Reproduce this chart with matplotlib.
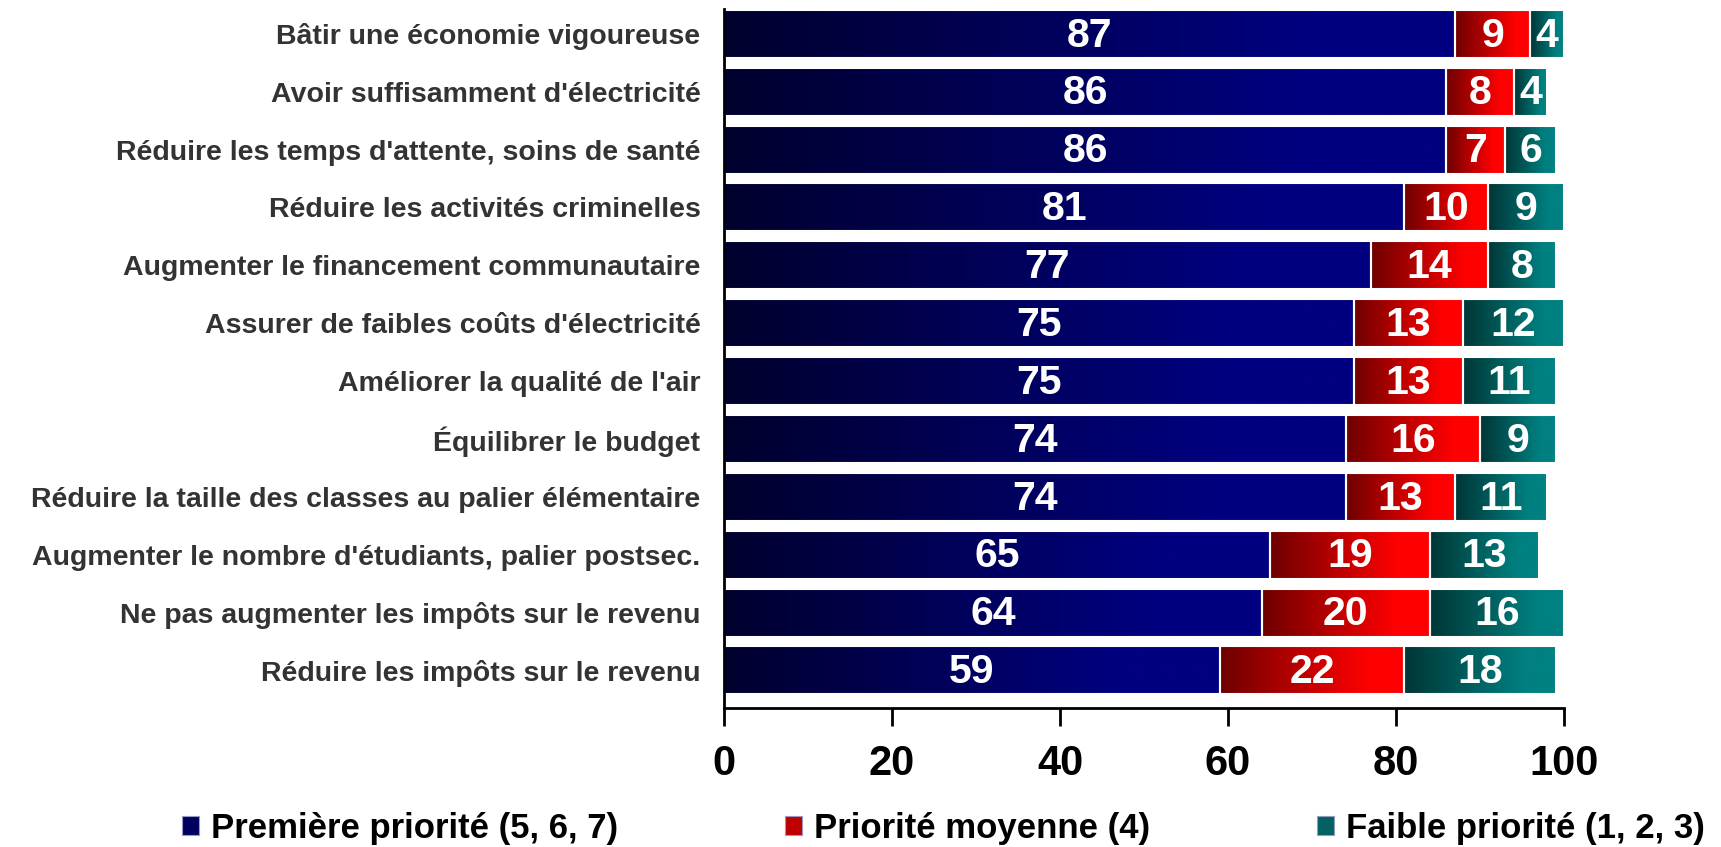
import numpy as np
import matplotlib
matplotlib.use("Agg")
import matplotlib.pyplot as plt
from matplotlib.colors import LinearSegmentedColormap
from matplotlib.patches import Patch

plt.rcParams['font.family'] = ['Liberation Sans', 'DejaVu Sans']
plt.rcParams['font.weight'] = 'bold'

categories = [
    "Bâtir une économie vigoureuse",
    "Avoir suffisamment d'électricité",
    "Réduire les temps d'attente, soins de santé",
    "Réduire les activités criminelles",
    "Augmenter le financement communautaire",
    "Assurer de faibles coûts d'électricité",
    "Améliorer la qualité de l'air",
    "Équilibrer le budget",
    "Réduire la taille des classes au palier élémentaire",
    "Augmenter le nombre d'étudiants, palier postsec.",
    "Ne pas augmenter les impôts sur le revenu",
    "Réduire les impôts sur le revenu",
]
premiere = [87, 86, 86, 81, 77, 75, 75, 74, 74, 65, 64, 59]
moyenne = [9, 8, 7, 10, 14, 13, 13, 16, 13, 19, 20, 22]
faible = [4, 4, 6, 9, 8, 12, 11, 9, 11, 13, 16, 18]
series_names = ["Première priorité (5, 6, 7)", "Priorité moyenne (4)", "Faible priorité (1, 2, 3)"]

# dark -> bright colour of each gradient
grad_colors = [("#00002e", "#000080"), ("#6e0000", "#ff0000"), ("#003636", "#008080")]
legend_fill = ["#000060", "#c00000", "#006262"]

fig = plt.figure(figsize=(17.21, 8.47), dpi=100)
ax = fig.add_axes([0.4207, 0.1641, 0.9088 - 0.4207, 0.9894 - 0.1641])

y = np.arange(len(categories))
left = np.zeros(len(categories))
grad = np.linspace(0, 1, 256).reshape(1, -1)
for vals, (c0, c1) in zip([premiere, moyenne, faible], grad_colors):
    cmap = LinearSegmentedColormap.from_list("g", [(0, c0), (0.8, c1), (1, c1)])
    bars = ax.barh(y, vals, left=left, height=0.83, facecolor="none",
                   edgecolor="white", linewidth=1.5, zorder=3, clip_on=False)
    for bar, v in zip(bars, vals):
        x0, y0 = bar.get_x(), bar.get_y()
        w, h = bar.get_width(), bar.get_height()
        ax.imshow(grad, cmap=cmap, extent=[x0, x0 + w, y0 + h, y0],
                  aspect="auto", zorder=2, interpolation="bilinear")
        ax.text(x0 + w / 2, y0 + h / 2 + 0.03, str(v), ha="center", va="center",
                color="white", fontsize=29.5, fontweight="bold", zorder=4)
    left += np.array(vals)

ax.set_xlim(0, 100)
ax.set_ylim(11.65, -0.43)
ax.set_xticks([0, 20, 40, 60, 80, 100])
ax.set_yticks(y, categories)
ax.tick_params(axis="x", length=13, width=2, direction="out", labelsize=30, pad=13)
ax.tick_params(axis="y", length=0, pad=17, labelsize=20.5, labelcolor="#333333")
for s in ["top", "right"]:
    ax.spines[s].set_visible(False)
for s in ["left", "bottom"]:
    ax.spines[s].set_linewidth(2)
    ax.spines[s].set_zorder(5)

handles = [Patch(facecolor=f, edgecolor="#9a9ac0", linewidth=0.8) for f in legend_fill]
fig.legend(handles, series_names, loc="center", bbox_to_anchor=(0.548, 0.022), ncol=3,
           frameon=False, fontsize=25, handlelength=0.49, handleheight=0.49,
           handletextpad=0.35, columnspacing=4.8)

fig.savefig("out.png", dpi=100)
